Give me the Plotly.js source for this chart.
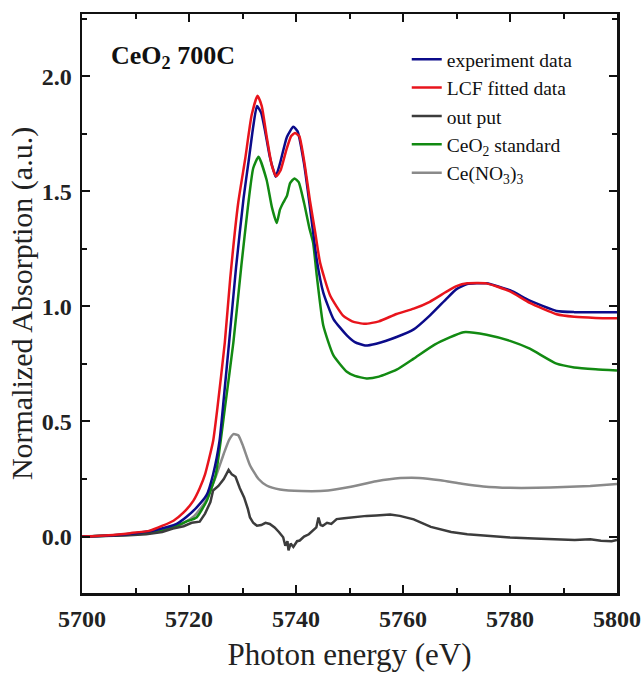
<!DOCTYPE html>
<html>
<head>
<meta charset="utf-8">
<script src="https://cdn.plot.ly/plotly-3.0.1.min.js"></script>
<style>html,body{margin:0;padding:0;background:#fff;}#chart{width:644px;height:675px;}</style>
</head>
<body>
<div id="chart"></div>
<script>
// ---- data ----
var expX = [5700,5705,5710,5714,5717.7,5719.5,5721.4,5723.3,5724.5,5725.7,5726.5,5727.5,5728.8,5730.2,5731.2,5732,5732.7,5733.5,5734.2,5735.1,5735.8,5736.2,5737,5738.3,5739.5,5740.3,5741.5,5742.5,5743.9,5745.1,5747,5749.5,5751,5752.9,5755,5758.8,5762,5765,5768.2,5770,5772,5775.6,5780,5783.7,5788.7,5792,5796,5800];
var expY = [0,0.005,0.015,0.03,0.055,0.085,0.126,0.181,0.27,0.414,0.6,0.845,1.17,1.47,1.64,1.78,1.87,1.84,1.764,1.65,1.59,1.563,1.62,1.736,1.78,1.76,1.62,1.45,1.2,1.06,0.945,0.874,0.845,0.83,0.838,0.867,0.9,0.96,1.035,1.075,1.097,1.1,1.07,1.025,0.98,0.975,0.975,0.975];

var lcfX = [5700,5705,5709,5712.7,5717.1,5719,5720.8,5722,5723,5724.5,5725.3,5726.7,5727.7,5729.2,5730.5,5731.7,5732.8,5733.6,5734.5,5735.5,5736.3,5737.1,5738.2,5739.1,5739.8,5740.6,5741.6,5742.6,5743.6,5744.5,5746.4,5748.8,5750.5,5752.9,5755.5,5758.8,5762,5765,5768.2,5770,5772,5775.6,5780,5783.7,5788.7,5792,5796,5800];
var lcfY = [0,0.006,0.015,0.026,0.069,0.105,0.155,0.21,0.27,0.414,0.557,0.845,1.12,1.45,1.64,1.83,1.915,1.87,1.74,1.61,1.565,1.59,1.68,1.74,1.753,1.74,1.62,1.46,1.32,1.19,1.046,0.96,0.935,0.924,0.935,0.967,0.99,1.02,1.065,1.088,1.1,1.1,1.065,1.015,0.966,0.955,0.95,0.948];

var outX = [5700,5704,5708,5712,5715,5717,5719,5720.5,5722,5723,5724,5724.5,5725.5,5726.5,5727.4,5728,5728.7,5729.5,5730.3,5731,5731.4,5732,5732.7,5733.5,5734.3,5735.1,5736,5736.8,5737.6,5738,5738.4,5738.6,5739,5739.5,5740.2,5740.7,5741.5,5742.4,5743.2,5743.8,5744.2,5744.6,5745,5745.8,5746.6,5747.6,5749,5751.5,5753.2,5755,5757.6,5759.4,5762,5765.2,5769,5772,5776.8,5780,5784.5,5788,5792.1,5795,5797,5799,5800];
var outY = [0,0.002,0.005,0.01,0.02,0.035,0.045,0.06,0.065,0.1,0.15,0.2,0.22,0.25,0.29,0.27,0.26,0.21,0.17,0.12,0.083,0.06,0.047,0.05,0.06,0.055,0.04,0.02,-0.003,-0.04,-0.02,-0.06,-0.03,-0.045,-0.02,-0.017,0.0,0.01,0.026,0.04,0.083,0.05,0.047,0.06,0.055,0.076,0.08,0.087,0.09,0.092,0.096,0.09,0.075,0.042,0.02,0.01,0.0,-0.004,-0.008,-0.01,-0.015,-0.012,-0.018,-0.02,-0.015];

var ceo2X = [5700,5705,5710,5714,5717,5719.5,5721.4,5723.3,5725,5726.7,5728.3,5729.8,5731,5732,5733,5734.5,5735.5,5736.4,5737,5737.6,5738.3,5738.9,5739.7,5740.5,5741.5,5742.5,5743.2,5743.9,5745.1,5747,5749.5,5751,5753.2,5755.5,5758.8,5762,5766,5771.3,5775.6,5780,5783.7,5788.7,5792,5796,5800];
var ceo2Y = [0,0.004,0.01,0.02,0.04,0.065,0.083,0.155,0.27,0.557,0.845,1.18,1.43,1.6,1.65,1.55,1.43,1.362,1.42,1.45,1.48,1.535,1.556,1.54,1.45,1.34,1.276,1.13,0.917,0.787,0.716,0.698,0.687,0.695,0.725,0.773,0.835,0.888,0.877,0.85,0.816,0.751,0.735,0.727,0.722];

var nitX = [5700,5705,5710,5713,5716,5719,5721,5723,5725,5726.5,5727.5,5728.3,5729.2,5730,5731.4,5733,5734.5,5737,5741,5746,5750,5755,5759.5,5763,5767,5771,5775,5780,5785,5790,5795,5800];
var nitY = [0,0.005,0.012,0.02,0.035,0.06,0.09,0.15,0.26,0.36,0.42,0.445,0.44,0.4,0.31,0.25,0.222,0.205,0.198,0.2,0.215,0.24,0.254,0.255,0.245,0.23,0.218,0.212,0.212,0.215,0.22,0.228];

var seriesNames = ['experiment data','LCF fitted data','out put','CeO<sub>2</sub> standard','Ce(NO<sub>3</sub>)<sub>3</sub>'];
var seriesColors = ['#0b0b8a','#e8141c','#3c3c3c','#128a12','#8a8a8a'];
var seriesShapes = ['spline','spline','linear','spline','spline'];
var annotationText = '<b>CeO<sub>2</sub> 700C</b>';
var xTitle = 'Photon energy (eV)';
var yTitle = 'Normalized Absorption (a.u.)';

var xs = [expX, lcfX, outX, ceo2X, nitX];
var ys = [expY, lcfY, outY, ceo2Y, nitY];
var traces = [];
for (var i = 0; i < 5; i++) {
  traces.push({
    x: xs[i], y: ys[i], name: seriesNames[i], type: 'scatter', mode: 'lines',
    line: {color: seriesColors[i], width: 2.5, shape: seriesShapes[i], smoothing: 0.5},
    legendrank: i + 1
  });
}
traces = [traces[4], traces[3], traces[2], traces[0], traces[1]];

var serif = 'Liberation Serif';
var layout = {
  width: 644, height: 675,
  font: {family: serif},
  margin: {l: 82, r: 27, t: 14, b: 82},
  paper_bgcolor: '#fff', plot_bgcolor: '#fff',
  showlegend: true,
  legend: {
    x: 0.607, y: 0.955, xanchor: 'left', yanchor: 'top',
    bgcolor: 'rgba(0,0,0,0)', borderwidth: 0,
    font: {family: serif, size: 19.5, color: '#111'},
    tracegroupgap: 0, itemwidth: 30, traceorder: 'normal'
  },
  xaxis: {
    range: [5700, 5800], dtick: 20, tick0: 5700,
    ticks: 'inside', ticklen: 8, tickwidth: 2, tickcolor: '#111',
    minor: {dtick: 10, ticks: 'inside', ticklen: 5, tickwidth: 2, tickcolor: '#111'},
    showline: true, linewidth: 2.5, linecolor: '#111', mirror: 'ticks',
    showgrid: false, zeroline: false,
    tickfont: {family: serif, size: 24, color: '#222', weight: 'bold'},
    ticklabelstandoff: 3,
    title: {text: xTitle, font: {family: serif, size: 31, color: '#222'}, standoff: 12}
  },
  yaxis: {
    range: [-0.245, 2.27], dtick: 0.5, tick0: 0, tickformat: '.1f',
    ticks: 'inside', ticklen: 8, tickwidth: 2, tickcolor: '#111',
    minor: {dtick: 0.25, ticks: 'inside', ticklen: 5, tickwidth: 2, tickcolor: '#111'},
    showline: true, linewidth: 2.5, linecolor: '#111', mirror: 'ticks',
    showgrid: false, zeroline: false,
    tickfont: {family: serif, size: 24, color: '#222', weight: 'bold'},
    ticklabelstandoff: 3,
    title: {text: yTitle, font: {family: serif, size: 30, color: '#222'}, standoff: 0}
  },
  annotations: [{
    xref: 'paper', yref: 'paper', x: 0.05, y: 0.925, xanchor: 'left', yanchor: 'middle',
    text: annotationText, showarrow: false,
    font: {family: serif, size: 26, color: '#111'}
  }]
};
Plotly.newPlot('chart', traces, layout, {displayModeBar: false, staticPlot: true});
</script>
</body>
</html>
